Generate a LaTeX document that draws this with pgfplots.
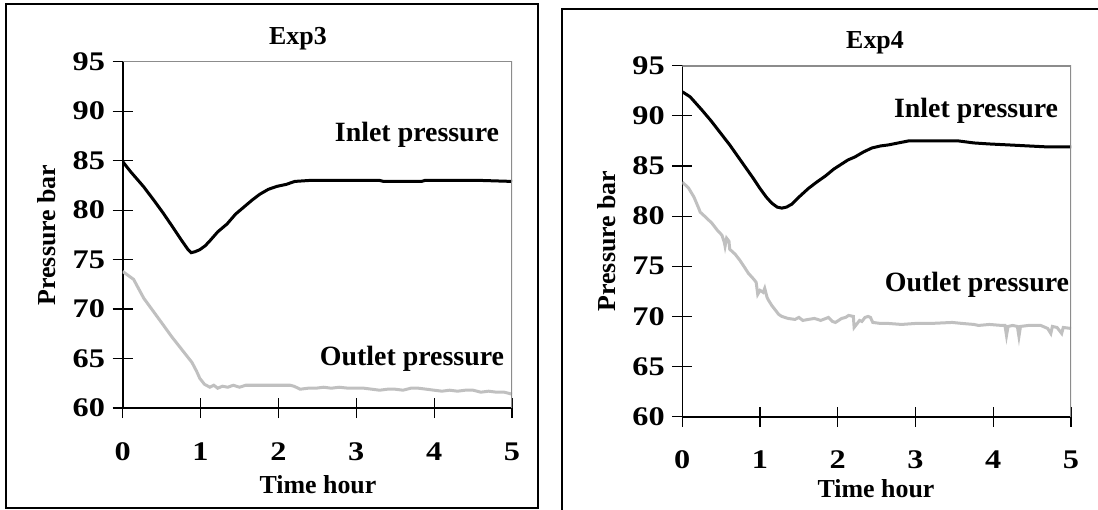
\documentclass[border=0pt]{standalone}
\usepackage{fontspec}
\setmainfont{Liberation Serif}
\usepackage{pgfplots}
\pgfplotsset{compat=1.18}

\definecolor{outletgray}{RGB}{192,192,192}
\definecolor{framegray}{RGB}{140,140,140}

\newcommand{\lbl}{\fontsize{13}{15}\selectfont\bfseries}
\newcommand{\curvelbl}{\fontsize{14}{16}\selectfont\bfseries}

\pgfplotsset{
  pressplot/.style={
    scale only axis,
    anchor=south west,
    xmin=0, xmax=5, ymin=60, ymax=95,
    xtick={0,...,5}, ytick={60,65,...,95},
    axis x line*=bottom, axis y line*=left,
    axis line style={black, line width=0.8bp, -},
    tick align=center,
    major tick length=10bp,
    tick style={black, line width=0.6bp},
    /pgf/number format/assume math mode=true,
    ticklabel style={font=\fontsize{13.5}{15}\selectfont\bfseries, xscale=1.2},
    yticklabel style={anchor=east, inner sep=0pt, xshift=-3bp},
    xticklabel style={anchor=north, inner sep=0pt, yshift=-12bp},
  },
  inlet/.style={black, line width=1.5bp},
  outlet/.style={outletgray, line width=1.5bp},
}

\begin{document}
\begin{tikzpicture}[x=1bp, y=1bp]
\useasboundingbox (0,0) rectangle (549,254.5);

% panel frames
\draw[black, line width=0.8bp] (3,0.5) rectangle (269,252.5);
\draw[black, line width=0.8bp] (281,-5) -- (281,250) -- (560,250);

% === Exp3 ===
\begin{axis}[pressplot, at={(61.35bp,50.5bp)}, width=194.65bp, height=173.15bp]
\addplot[outlet] coordinates {
  (0,73.8)(0.14,73.0)(0.27,71.1)(0.40,69.7)(0.52,68.4)(0.63,67.2)(0.74,66.1)
  (0.82,65.3)(0.89,64.6)(0.95,63.7)(0.99,63.0)(1.05,62.4)(1.12,62.1)(1.17,62.3)
  (1.22,62.0)(1.28,62.2)(1.35,62.1)(1.42,62.3)(1.50,62.1)(1.58,62.3)(1.66,62.3)
  (1.75,62.3)(1.85,62.3)(1.95,62.3)(2.05,62.3)(2.15,62.3)(2.20,62.2)(2.28,61.9)
  (2.38,62.0)(2.48,62.0)(2.58,62.1)(2.68,62.0)(2.78,62.1)(2.90,62.0)(3.00,62.0)
  (3.10,62.0)(3.20,61.9)(3.30,61.8)(3.40,61.9)(3.50,61.9)(3.60,61.8)(3.70,62.0)
  (3.80,62.0)(3.90,61.9)(4.00,61.8)(4.10,61.7)(4.20,61.8)(4.30,61.7)(4.40,61.8)
  (4.50,61.8)(4.60,61.6)(4.70,61.7)(4.80,61.6)(4.90,61.6)(5.00,61.4)
};
\addplot[inlet] coordinates {
  (0,84.9)(0.1,83.9)(0.265,82.4)(0.4,81.0)(0.52,79.7)(0.65,78.2)(0.76,76.9)
  (0.84,76.0)(0.88,75.7)(0.93,75.8)(0.99,76.0)(1.06,76.4)(1.12,76.9)(1.22,77.8)
  (1.34,78.6)(1.45,79.6)(1.57,80.4)(1.66,81.0)(1.76,81.6)(1.87,82.1)(1.98,82.4)
  (2.10,82.6)(2.21,82.9)(2.40,83.0)(2.58,83.0)(3.0,83.0)(3.30,83.0)(3.35,82.9)
  (3.6,82.9)(3.84,82.9)(3.88,83.0)(4.2,83.0)(4.6,83.0)(5.0,82.9)
};
\draw[framegray, line width=0.8bp] (rel axis cs:0,1) -- (rel axis cs:1,1) -- (rel axis cs:1,0);
\end{axis}

\node[font=\lbl] at (149,235) {Exp3};
\node[font=\lbl] at (159,12) {Time hour};
\node[font=\lbl, rotate=90] at (23.5,137) {Pressure bar};
\node[font=\curvelbl] at (208.5,187) {Inlet pressure};
\node[font=\curvelbl] at (206,75) {Outlet pressure};

% === Exp4 ===
\begin{axis}[pressplot, at={(341.15bp,46.15bp)}, width=194.35bp, height=175.5bp]
\addplot[outlet] coordinates {
  (0,83.4)(0.08,82.8)(0.15,81.9)(0.21,80.8)(0.23,80.4)(0.30,79.9)(0.38,79.3)
  (0.45,78.6)(0.51,78.1)(0.54,77.4)(0.55,77.0)(0.57,77.8)(0.60,77.5)(0.61,76.7)
  (0.68,76.2)(0.74,75.6)(0.80,74.9)(0.85,74.3)(0.92,73.7)(0.95,73.4)(0.97,72.2)
  (1.0,72.6)(1.04,72.4)(1.06,72.8)(1.09,71.9)(1.11,71.6)(1.15,71.1)(1.19,70.7)
  (1.24,70.2)(1.28,70.0)(1.36,69.8)(1.45,69.7)(1.50,69.9)(1.55,69.6)(1.62,69.7)
  (1.70,69.8)(1.78,69.6)(1.88,69.9)(1.93,69.5)(1.97,69.4)(2.05,69.8)(2.10,69.9)
  (2.14,70.1)(2.20,70.0)(2.21,68.9)(2.24,69.2)(2.28,69.6)(2.31,69.5)(2.35,69.9)
  (2.39,70.0)(2.42,69.9)(2.45,69.4)(2.55,69.3)(2.65,69.3)(2.82,69.2)(3.0,69.3)
  (3.2,69.3)(3.47,69.4)(3.6,69.3)(3.75,69.2)(3.81,69.1)(3.95,69.2)(4.11,69.1)
  (4.15,69.1)(4.17,68.1)(4.19,69.0)(4.25,69.1)(4.31,69.0)(4.33,68.0)(4.35,69.0)
  (4.45,69.1)(4.61,69.1)(4.70,68.8)(4.74,68.3)(4.76,69.0)(4.82,68.9)(4.88,68.3)
  (4.90,68.9)(5.0,68.8)
};
\addplot[inlet] coordinates {
  (0,92.4)(0.1,91.9)(0.25,90.6)(0.37,89.5)(0.48,88.4)(0.61,87.1)(0.71,86.0)
  (0.81,84.9)(0.91,83.8)(1.0,82.75)(1.08,81.9)(1.15,81.3)(1.22,80.9)(1.28,80.8)
  (1.34,80.9)(1.41,81.2)(1.50,81.9)(1.62,82.75)(1.73,83.4)(1.84,84.0)(1.95,84.7)
  (2.05,85.2)(2.13,85.6)(2.22,85.9)(2.33,86.4)(2.44,86.8)(2.55,87.0)(2.65,87.1)
  (2.78,87.3)(2.91,87.5)(3.2,87.5)(3.55,87.5)(3.75,87.3)(3.94,87.2)(4.2,87.1)
  (4.45,87.0)(4.7,86.9)(5.0,86.9)
};
\draw[framegray, line width=0.8bp] (rel axis cs:0,1) -- (rel axis cs:1,1) -- (rel axis cs:1,0);
\end{axis}

\node[font=\lbl] at (437.5,233) {Exp4};
\node[font=\lbl] at (438,10) {Time hour};
\node[font=\lbl, rotate=90] at (303.5,134) {Pressure bar};
\node[font=\curvelbl] at (488,199) {Inlet pressure};
\node[font=\curvelbl] at (488.5,112) {Outlet pressure};
\end{tikzpicture}
\end{document}
